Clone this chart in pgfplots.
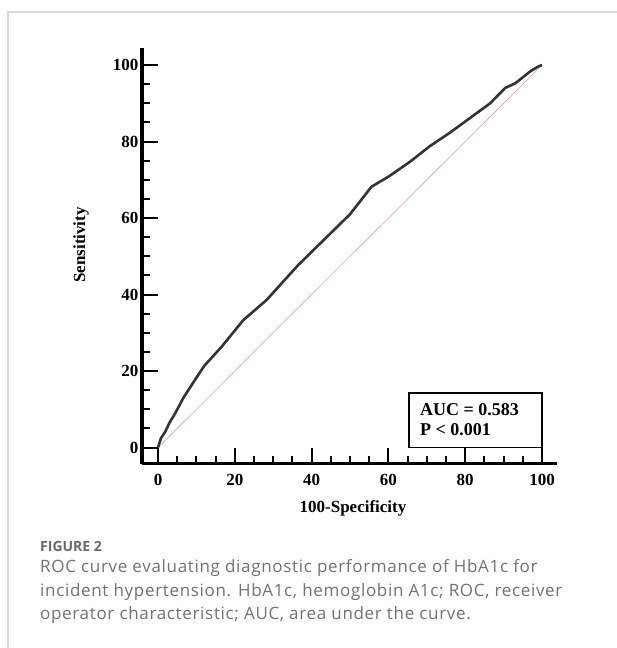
\documentclass[border=0pt]{standalone}
\usepackage{fontspec}
\setmainfont{Liberation Serif}
\newfontfamily\capfont[LetterSpace=4]{Open Sans}
\newfontfamily\capheadfont{Open Sans}
\usepackage{pgfplots}
\pgfplotsset{compat=1.18}
\usepackage{xcolor}
\definecolor{cFrame}{HTML}{D9D9D9}
\definecolor{cCurve}{HTML}{333333}
\definecolor{cDiag}{HTML}{D9A3A3}
\definecolor{cCap}{HTML}{727272}
\definecolor{cCapHead}{HTML}{6A6A6A}

\begin{document}
\begin{tikzpicture}
% page is 616 x 648 px, 1pt = 1px, origin at bottom left
\path[use as bounding box] (0pt,0pt) rectangle (616pt,648pt);
\draw[cFrame, line width=1.5pt] (8pt,-5pt) -- (8pt,636pt) -- (625pt,636pt);

\begin{axis}[
  at={(141.9pt,184.4pt)}, anchor=south west,
  scale only axis, width=415.5pt, height=415.8pt,
  xmin=-4.2, xmax=104, ymin=-4.2, ymax=104.5,
  axis x line=bottom, axis y line=left,
  axis line style={-, line width=3.2pt, black},
  xtick={0,20,...,100}, ytick={0,20,...,100},
  minor x tick num=3, minor y tick num=3,
  tick align=inside,
  major tick length=16pt, minor tick length=8pt,
  every tick/.style={black, line width=2pt},
  /pgf/number format/assume math mode=true,
  tick label style={font=\fontsize{17}{20}\selectfont\bfseries},
  xticklabel style={anchor=base, yshift=-22.4pt},
  yticklabel style={anchor=east},
  clip=false,
]
% chance line
\addplot[cDiag, line width=0.6pt] coordinates {(0,0)(100,100)};
% ROC curve
\addplot[cCurve, line width=2.6pt, line join=round] coordinates {
  (0,0)(0.3,1)(0.8,2.5)(1.8,4)(3,6.5)(4.5,9)(6.6,13)(9.5,17.5)(12,21.3)
  (16.6,26.4)(22.2,33.3)(28.3,38.6)(31.8,42.5)(36.5,47.7)(43.1,54.2)
  (50,61)(55.6,68.2)(60,70.8)(65.6,74.7)(70.8,78.8)(76,82.3)(86.5,90)
  (90.4,94)(93,95.2)(96.9,98.3)(98,99)(99,99.6)(100,100)};
% AUC box
\draw[black, line width=1.5pt] (axis cs:65.4,0) rectangle (axis cs:100,14.2);
\node[anchor=base west, inner sep=0pt, font=\fontsize{18}{20}\selectfont\bfseries]
  at (axis cs:68.2,8.5) {AUC = 0.583};
\node[anchor=base west, inner sep=0pt, font=\fontsize{18}{20}\selectfont\bfseries]
  at (axis cs:68.2,3.1) {P < 0.001};
\end{axis}

% axis titles
\node[anchor=base, rotate=90, inner sep=0pt, font=\fontsize{17}{20}\selectfont\bfseries]
  at (85pt,403pt) {Sensitivity};
\node[anchor=base, inner sep=0pt, font=\fontsize{17}{20}\selectfont\bfseries]
  at (353pt,135pt) {100-Specificity};

% caption
\node[anchor=base west, inner sep=0pt, text=cCapHead, font=\capheadfont\fontsize{14}{16}\selectfont\bfseries]
  at (40pt,96.7pt) {FIGURE 2};
\node[anchor=base west, inner sep=0pt, text=cCap, font=\capfont\fontsize{17}{20}\selectfont]
  at (40pt,75pt) {ROC curve evaluating diagnostic performance of HbA1c for};
\node[anchor=base west, inner sep=0pt, text=cCap, font=\capfont\fontsize{17}{20}\selectfont]
  at (40pt,51.7pt) {incident hypertension. HbA1c, hemoglobin A1c; ROC, receiver};
\node[anchor=base west, inner sep=0pt, text=cCap, font=\capfont\fontsize{17}{20}\selectfont]
  at (40pt,28.3pt) {operator characteristic; AUC, area under the curve.};
\end{tikzpicture}
\end{document}
